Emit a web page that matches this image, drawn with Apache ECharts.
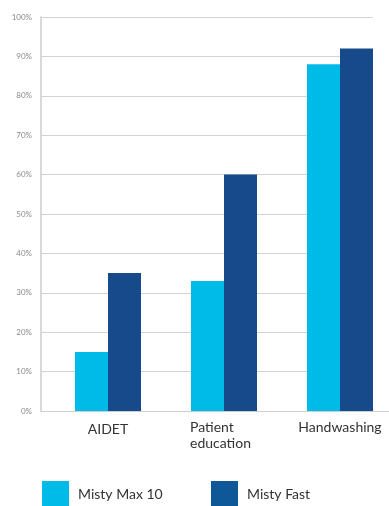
<!DOCTYPE html>
<html>
<head>
<meta charset="utf-8">
<script src="https://cdn.jsdelivr.net/npm/echarts@6/dist/echarts.min.js"></script>
<style>
  html, body { margin: 0; padding: 0; background: #fff; }
  #chartDom { width: 389px; height: 506px; }
</style>
</head>
<body>
<div id="chartDom"></div>
<script>
// 数据
const categories = ['AIDET', 'Patient\neducation', 'Handwashing'];
const seriesNames = ['Misty Max 10', 'Misty Fast'];
const mistyMax10 = [15, 33, 88];
const mistyFast = [35, 60, 92];
const yTicks = [0, 10, 20, 30, 40, 50, 60, 70, 80, 90, 100];

const lightBlue = '#00bbe7';
const darkBlue = '#164a8a';
const font = 'Lato, "Noto Sans", sans-serif';

let chart = echarts.init(document.getElementById('chartDom'));

chart.setOption({
  animation: false,
  grid: [
    // 网格线和y轴
    { left: 41, right: 16, top: 17, bottom: 95 },
    // 柱子
    { left: 41, right: 0, top: 17, bottom: 95 }
  ],
  legend: [
    {
      left: 42, top: 481, padding: 0,
      itemWidth: 27, itemHeight: 27, itemGap: 0,
      icon: 'rect',
      data: [{ name: seriesNames[0], itemStyle: { color: lightBlue } }],
      textStyle: { fontFamily: font, fontSize: 14, color: '#333', padding: [0, 0, 0, 4] }
    },
    {
      left: 211, top: 481, padding: 0,
      itemWidth: 27, itemHeight: 27, itemGap: 0,
      icon: 'rect',
      data: [{ name: seriesNames[1], itemStyle: { color: '#0e5898' } }],
      textStyle: { fontFamily: font, fontSize: 14, color: '#333', padding: [0, 0, 0, 4] }
    }
  ],
  xAxis: [
    {
      gridIndex: 0, type: 'category', data: categories,
      axisLine: { show: false }, axisTick: { show: false }, axisLabel: { show: false }
    },
    {
      gridIndex: 1, type: 'category', data: categories,
      axisLine: { show: true, lineStyle: { color: '#cfcfcf', width: 1 } },
      axisTick: { show: false },
      axisLabel: {
        margin: 8,
        fontFamily: font, fontSize: 14, color: '#333', lineHeight: 16,
        padding: [0, 0, 0, 18],
        formatter: function (v) {
          if (v.indexOf('\n') >= 0) {
            return v.split('\n').map(s => '{l|' + s + '}').join('\n');
          }
          if (v === 'AIDET') return '{a|' + v + '}';
          return v;
        },
        rich: {
          l: { width: 68, align: 'left', fontFamily: font, fontSize: 14, color: '#333', lineHeight: 16 },
          a: { fontFamily: font, fontSize: 14, color: '#333', lineHeight: 16, padding: [5, 0, 0, 0] }
        }
      }
    }
  ],
  yAxis: [
    {
      gridIndex: 0, type: 'value', min: 0, max: 100, interval: 10,
      axisLine: { show: true, lineStyle: { color: '#cccccc', width: 1.5 } },
      axisTick: { show: false },
      axisLabel: {
        margin: 9, fontFamily: font, fontSize: 8, color: '#8a8a8a',
        formatter: function (v) { return yTicks.indexOf(v) >= 0 ? v + '%' : ''; }
      },
      splitLine: { show: true, lineStyle: { color: '#d3d3d3', width: 1 } }
    },
    {
      gridIndex: 1, type: 'value', min: 0, max: 100, interval: 10,
      axisLine: { show: false }, axisTick: { show: false },
      axisLabel: { show: false }, splitLine: { show: false }
    }
  ],
  series: [
    {
      // 占位，把柱子往右推
      name: 'spacer', type: 'bar', xAxisIndex: 1, yAxisIndex: 1,
      barWidth: 18, barGap: 0, silent: true,
      itemStyle: { color: 'rgba(0,0,0,0)' },
      data: [0, 0, 0]
    },
    {
      name: seriesNames[0], type: 'bar', xAxisIndex: 1, yAxisIndex: 1,
      barWidth: 33, barGap: 0,
      itemStyle: { color: lightBlue },
      data: mistyMax10
    },
    {
      name: seriesNames[1], type: 'bar', xAxisIndex: 1, yAxisIndex: 1,
      barWidth: 33, barGap: 0,
      itemStyle: { color: darkBlue },
      data: mistyFast
    }
  ]
});
</script>
</body>
</html>
